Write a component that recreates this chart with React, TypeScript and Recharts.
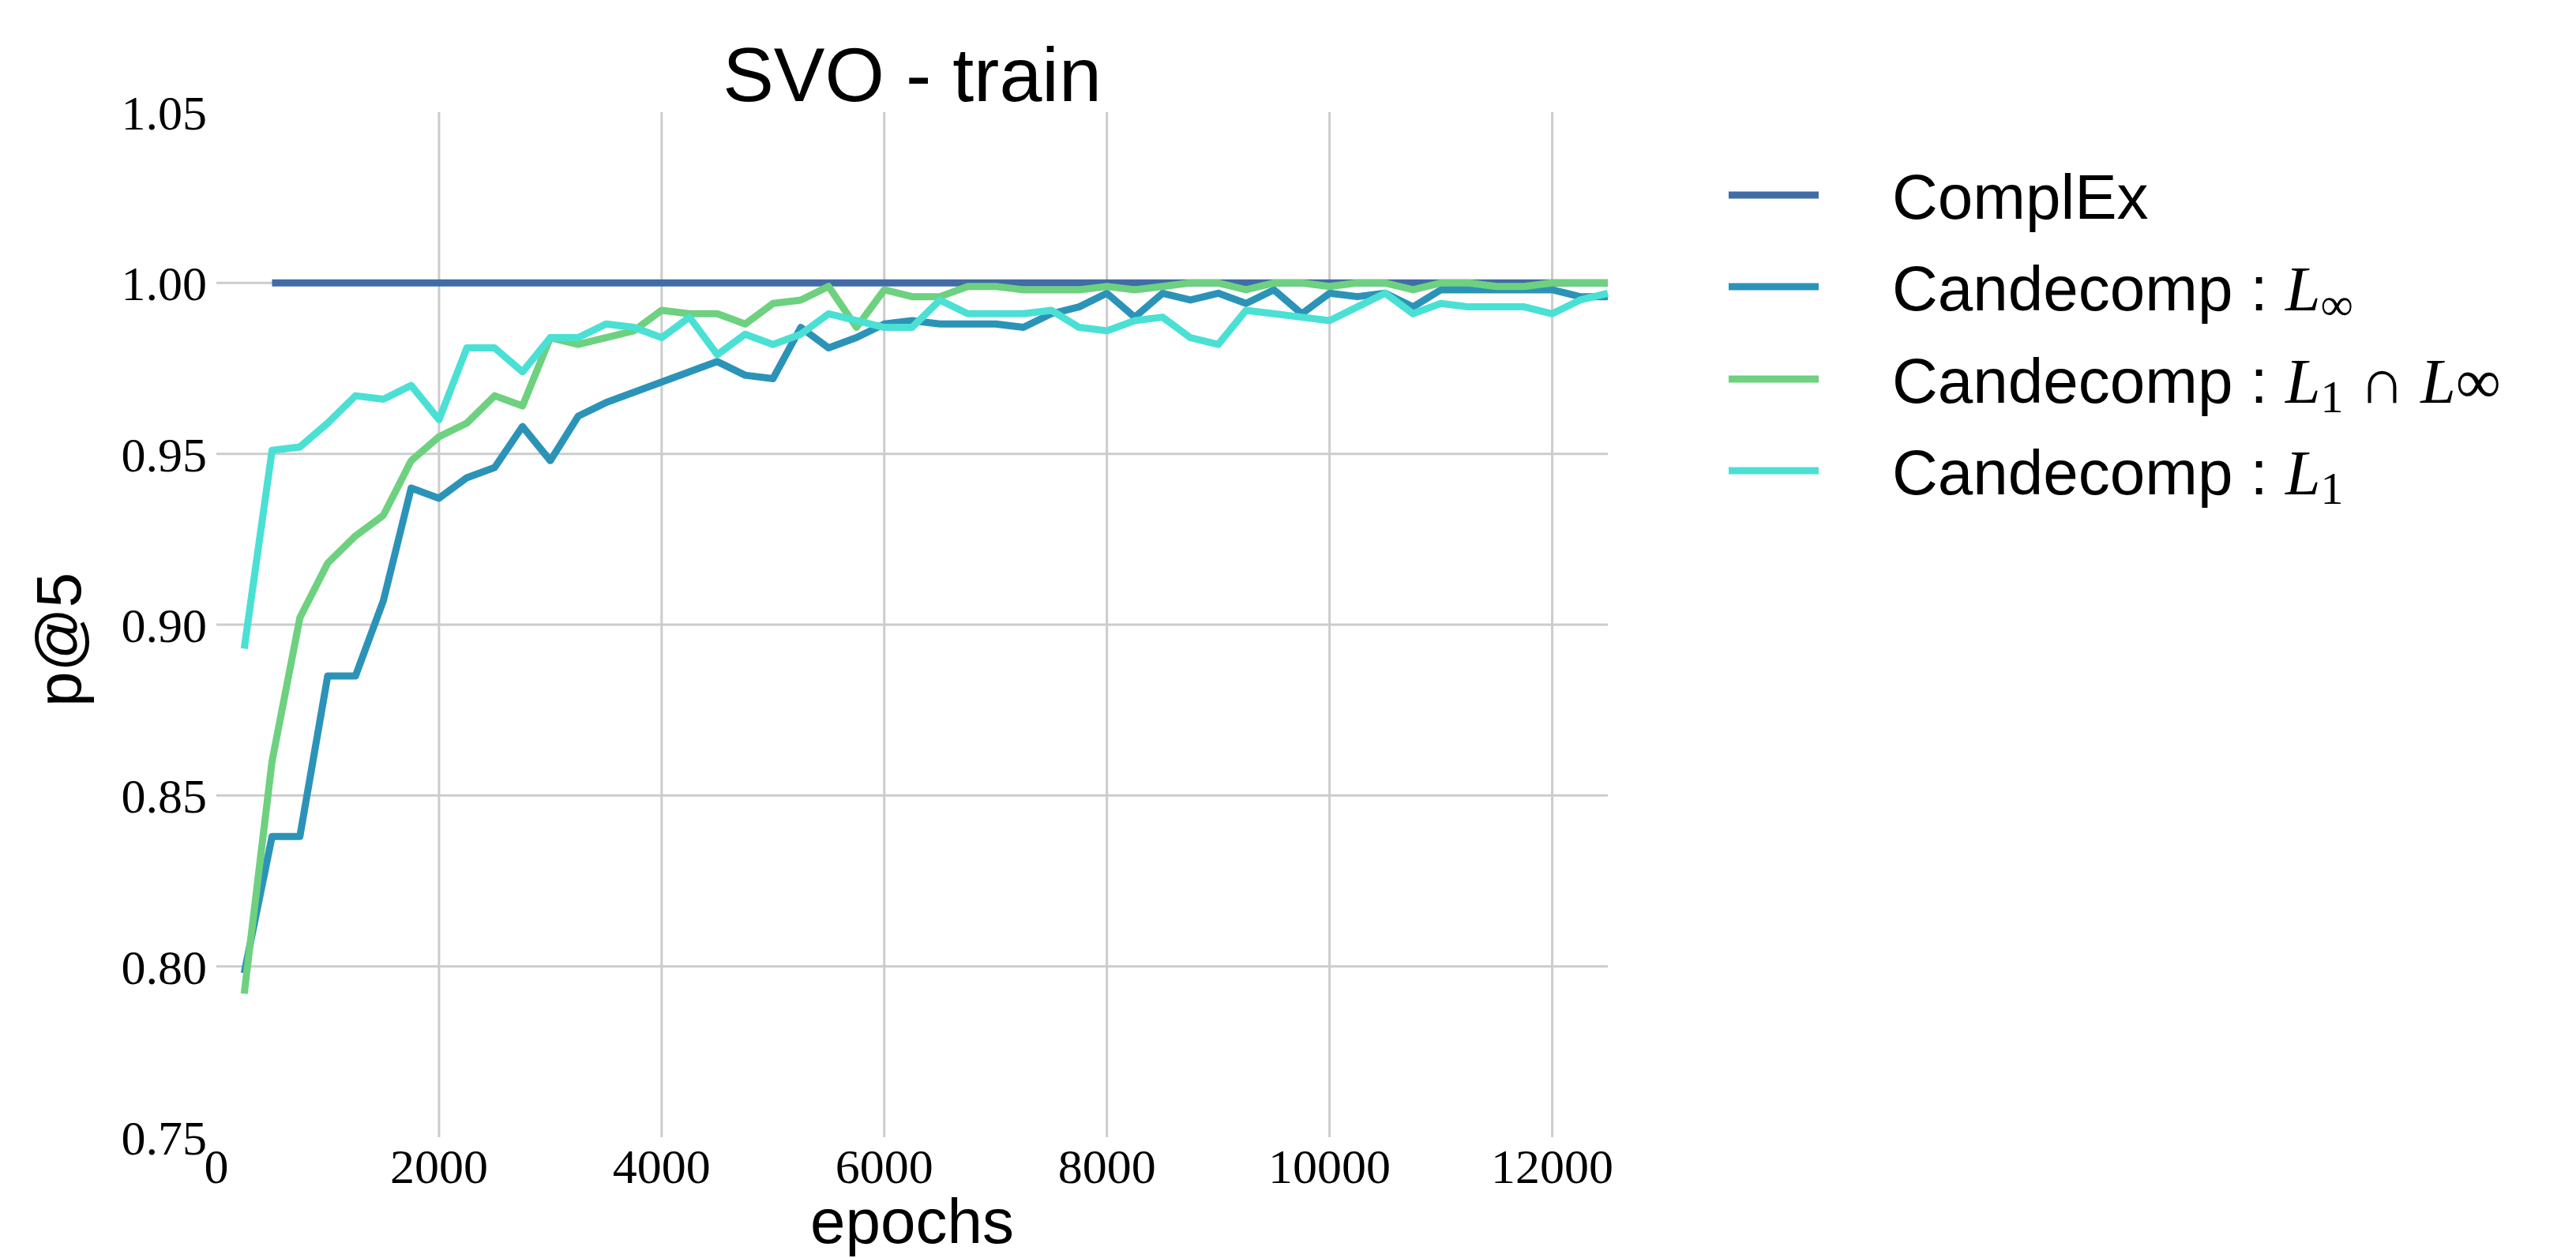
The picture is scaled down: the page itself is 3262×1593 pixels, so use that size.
import React from 'react';
import { CartesianGrid, Line, LineChart, XAxis, YAxis } from 'recharts';

// Epochs sampled every 250 steps.
const epochs = [
  250, 500, 750, 1000, 1250, 1500, 1750, 2000, 2250, 2500,
  2750, 3000, 3250, 3500, 3750, 4000, 4250, 4500, 4750, 5000,
  5250, 5500, 5750, 6000, 6250, 6500, 6750, 7000, 7250, 7500,
  7750, 8000, 8250, 8500, 8750, 9000, 9250, 9500, 9750, 10000,
  10250, 10500, 10750, 11000, 11250, 11500, 11750, 12000, 12250, 12500,
];

// ComplEx sits at 1.0 from epoch 500 on (nothing at 250).
const complex = [
  null, 1, 1, 1, 1, 1, 1, 1, 1, 1,
  1, 1, 1, 1, 1, 1, 1, 1, 1, 1,
  1, 1, 1, 1, 1, 1, 1, 1, 1, 1,
  1, 1, 1, 1, 1, 1, 1, 1, 1, 1,
  1, 1, 1, 1, 1, 1, 1, 1, 1, 1,
];

const candLinf = [
  0.798, 0.838, 0.838, 0.885, 0.885, 0.907, 0.94, 0.937, 0.943, 0.946,
  0.958, 0.948, 0.961, 0.965, 0.968, 0.971, 0.974, 0.977, 0.973, 0.972,
  0.987, 0.981, 0.984, 0.988, 0.989, 0.988, 0.988, 0.988, 0.987, 0.991,
  0.993, 0.997, 0.99, 0.997, 0.995, 0.997, 0.994, 0.998, 0.991, 0.997,
  0.996, 0.997, 0.993, 0.998, 0.998, 0.998, 0.998, 0.998, 0.996, 0.996,
];

const candL1Linf = [
  0.792, 0.86, 0.902, 0.918, 0.926, 0.932, 0.948, 0.955, 0.959, 0.967,
  0.964, 0.984, 0.982, 0.984, 0.986, 0.992, 0.991, 0.991, 0.988, 0.994,
  0.995, 0.999, 0.987, 0.998, 0.996, 0.996, 0.999, 0.999, 0.998, 0.998,
  0.998, 0.999, 0.998, 0.999, 1.0, 1.0, 0.998, 1.0, 1.0, 0.999,
  1.0, 1.0, 0.998, 1.0, 1.0, 0.999, 0.999, 1.0, 1.0, 1.0,
];

const candL1 = [
  0.893, 0.951, 0.952, 0.959, 0.967, 0.966, 0.97, 0.96, 0.981, 0.981,
  0.974, 0.984, 0.984, 0.988, 0.987, 0.984, 0.99, 0.979, 0.985, 0.982,
  0.985, 0.991, 0.989, 0.987, 0.987, 0.995, 0.991, 0.991, 0.991, 0.992,
  0.987, 0.986, 0.989, 0.99, 0.984, 0.982, 0.992, 0.991, 0.99, 0.989,
  0.993, 0.997, 0.991, 0.994, 0.993, 0.993, 0.993, 0.991, 0.995, 0.997,
];

const xTicks = [0, 2000, 4000, 6000, 8000, 10000, 12000];
const yTicks = [0.75, 0.8, 0.85, 0.9, 0.95, 1.0, 1.05];
const xGrid = [2000, 4000, 6000, 8000, 10000, 12000];
const yGrid = [0.8, 0.85, 0.9, 0.95, 1.0];

const COLORS = {
  complex: '#416ca6',
  linf: '#2c93b8',
  l1linf: '#6dd17f',
  l1: '#4be0d4',
};

const W = 3262;
const H = 1593;
const SANS = '"Liberation Sans", Arial, Helvetica, sans-serif';
const SERIF = '"Liberation Serif", "DejaVu Serif", serif';
const GRID = '#cccccc';

const data = epochs.map((epoch, i) => ({
  epoch,
  complex: complex[i],
  linf: candLinf[i],
  l1linf: candL1Linf[i],
  l1: candL1[i],
}));

// legend rows: line centre y, colour, label parts (math bits in serif italic)
const legendRows: { y: number; color: string; label: React.ReactNode }[] = [
  { y: 247, color: COLORS.complex, label: 'ComplEx' },
  {
    y: 363,
    color: COLORS.linf,
    label: (
      <>
        {'Candecomp : '}
        <tspan fontFamily={SERIF} fontStyle="italic">L</tspan>
        <tspan fontFamily={SERIF} fontSize={58} dy={12}>∞</tspan>
      </>
    ),
  },
  {
    y: 480,
    color: COLORS.l1linf,
    label: (
      <>
        {'Candecomp : '}
        <tspan fontFamily={SERIF} fontStyle="italic">L</tspan>
        <tspan fontFamily={SERIF} fontSize={58} dy={12}>1</tspan>
        <tspan fontFamily={SERIF} dy={-12}>{' ∩ '}</tspan>
        <tspan fontFamily={SERIF} fontStyle="italic">L</tspan>
        <tspan fontFamily={SERIF}>∞</tspan>
      </>
    ),
  },
  {
    y: 596,
    color: COLORS.l1,
    label: (
      <>
        {'Candecomp : '}
        <tspan fontFamily={SERIF} fontStyle="italic">L</tspan>
        <tspan fontFamily={SERIF} fontSize={58} dy={12}>1</tspan>
      </>
    ),
  },
];

export default function App() {
  return (
    <div style={{ position: 'relative', width: W, height: H, background: '#fff' }}>
      <style>{'body{margin:0}'}</style>
      <LineChart
        width={W}
        height={H}
        data={data}
        margin={{ top: 142, right: 1226, bottom: 73, left: 74 }}
      >
        <CartesianGrid
          stroke={GRID}
          strokeWidth={3}
          horizontalValues={yGrid}
          verticalValues={xGrid}
        />
        <XAxis
          dataKey="epoch"
          type="number"
          domain={[0, 12500]}
          ticks={xTicks}
          axisLine={false}
          tickLine={false}
          height={80}
          tickSize={6}
          tickMargin={8}
          tick={{ fontSize: 62, fill: '#000', fontFamily: SERIF }}
        />
        <YAxis
          type="number"
          domain={[0.75, 1.05]}
          ticks={yTicks}
          axisLine={false}
          tickLine={false}
          width={200}
          tickSize={6}
          tickMargin={6}
          tickFormatter={(v: number) => v.toFixed(2)}
          tick={{ fontSize: 62, fill: '#000', fontFamily: SERIF }}
        />
        <Line type="linear" dataKey="complex" stroke={COLORS.complex} strokeWidth={9} dot={false} strokeLinejoin="round" isAnimationActive={false} />
        <Line type="linear" dataKey="linf" stroke={COLORS.linf} strokeWidth={9} dot={false} strokeLinejoin="round" isAnimationActive={false} />
        <Line type="linear" dataKey="l1linf" stroke={COLORS.l1linf} strokeWidth={9} dot={false} strokeLinejoin="round" isAnimationActive={false} />
        <Line type="linear" dataKey="l1" stroke={COLORS.l1} strokeWidth={9} dot={false} strokeLinejoin="round" isAnimationActive={false} />
      </LineChart>

      <svg
        width={W}
        height={H}
        style={{ position: 'absolute', left: 0, top: 0, pointerEvents: 'none' }}
      >
        <text x={1155} y={128} textAnchor="middle" fontFamily={SANS} fontSize={97} fill="#000">
          SVO - train
        </text>
        <text x={1155} y={1574} textAnchor="middle" fontFamily={SANS} fontSize={80} fill="#000">
          epochs
        </text>
        <text
          x={0}
          y={0}
          transform="translate(102,810) rotate(-90)"
          textAnchor="middle"
          fontFamily={SANS}
          fontSize={80}
          fill="#000"
        >
          p@5
        </text>
        {legendRows.map((row, i) => (
          <g key={i}>
            <line x1={2189} x2={2303} y1={row.y} y2={row.y} stroke={row.color} strokeWidth={9} />
            <text x={2396} y={row.y + 30} fontFamily={SANS} fontSize={80} fill="#000">
              {row.label}
            </text>
          </g>
        ))}
      </svg>
    </div>
  );
}
